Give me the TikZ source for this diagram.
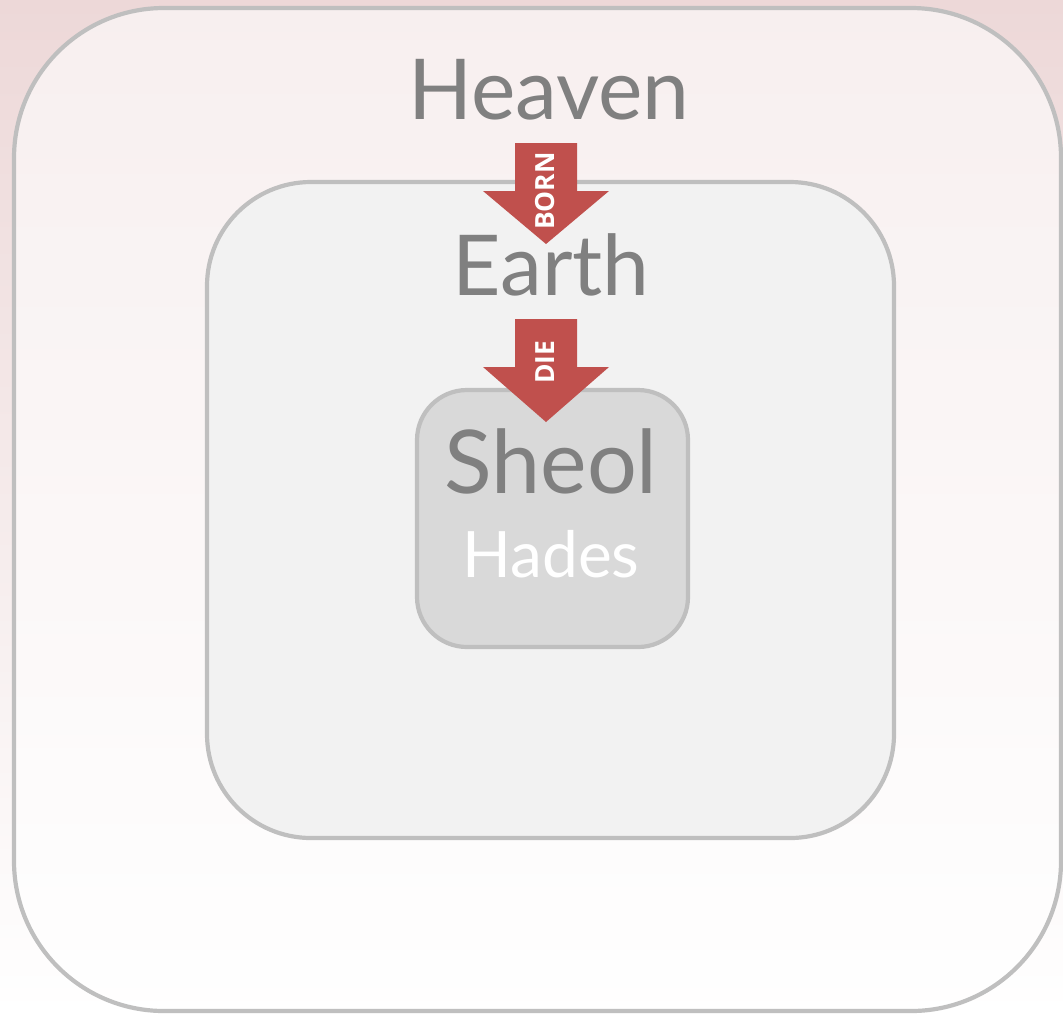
\documentclass[tikz,border=0pt]{standalone}
\usepackage{fontspec}
\setmainfont{Lato}
\newfontfamily\arrowfont{Open Sans}
\definecolor{bgpink}{HTML}{EDD8D8}
\definecolor{bgmid}{HTML}{F5EBEB}
\definecolor{boxline}{HTML}{BFBFBF}
\definecolor{midfill}{HTML}{F2F2F2}
\definecolor{innerfill}{HTML}{D9D9D9}
\definecolor{labelgray}{HTML}{808080}
\definecolor{arrowred}{HTML}{C0504D}
\begin{document}
\begin{tikzpicture}[x=0.5pt,y=-0.5pt,
  realm/.style={draw=boxline, line width=2.1pt},
  biglabel/.style={text=labelgray, inner sep=0pt, anchor=base},
  arrowlabel/.style={text=white, font=\arrowfont\bfseries\fontsize{13.2}{13.2}\selectfont, rotate=90, inner sep=0pt},
  downarrow/.style={fill=arrowred, draw=none}]
\useasboundingbox (0,0) rectangle (1063,1013);
\shade[top color=bgpink, bottom color=white, middle color=bgmid] (0,0) rectangle (1063,1013);
% outer realm
\draw[realm, fill=white, fill opacity=0.6, rounded corners=75pt] (14,8) rectangle (1061,1011);
% middle realm
\draw[realm, fill=midfill, rounded corners=52pt] (207,182) rectangle (894,838);
% inner realm
\draw[realm, fill=innerfill, rounded corners=25pt] (417,390) rectangle (688,647);
% labels
\node[biglabel, font=\fontsize{42}{42}\selectfont] (heaven) at (549,119) {Heaven};
\node[biglabel, font=\fontsize{42}{42}\selectfont] (earth) at (551,295) {Earth};
\node[biglabel, font=\fontsize{44}{44}\selectfont] (sheol) at (551,493) {Sheol};
\node[biglabel, text=white, font=\fontsize{32}{32}\selectfont] (hades) at (551,577) {Hades};
% arrows
\fill[downarrow] (515,143) -- (577,143) -- (577,191) -- (609,191) -- (546,244) -- (483,191) -- (515,191) -- cycle;
\node[arrowlabel] (born) at (545,191) {BORN};
\fill[downarrow] (515,319) -- (577,319) -- (577,367) -- (609,367) -- (546,422) -- (483,367) -- (515,367) -- cycle;
\node[arrowlabel] (die) at (545,362) {DIE};
\end{tikzpicture}
\end{document}
